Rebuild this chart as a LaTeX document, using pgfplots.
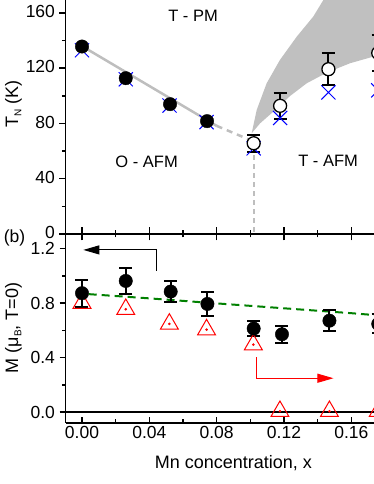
\documentclass[border=0pt]{standalone}
\usepackage{fontspec}
\setmainfont{Liberation Sans}
\usepackage{pgfplots}
\pgfplotsset{compat=1.18}
\usetikzlibrary{arrows.meta}
\definecolor{fillgray}{RGB}{192,192,192}
\definecolor{linegray}{RGB}{190,190,190}
\definecolor{dgreen}{RGB}{0,128,0}
\begin{document}
\begin{tikzpicture}[x=1pt,y=1pt]
\useasboundingbox (0,0) rectangle (374,484);
\pgfplotsset{
  common/.style={
    scale only axis, width=336.3pt, anchor=south west,
    xmin=-0.0098, xmax=0.19,
    axis x line=bottom, axis y line=left,
    axis line style={-, line width=1.8pt},
    x axis line style={-}, y axis line style={-},
    xtick={0,0.04,0.08,0.12,0.16}, minor xtick={0.02,0.06,0.10,0.14,0.18},
    every tick/.style={black, line width=1.5pt},
    every minor tick/.style={black, line width=1.5pt},
    tick label style={font=\fontsize{17.5}{20}\selectfont},
    /pgf/number format/assume math mode=true,
    ytick align=outside, major tick length=6pt, minor tick length=3.5pt,
    xtick pos=bottom, ytick pos=left,
    yticklabel style={xshift=-1pt},
  }
}
% ---------- top panel ----------
\begin{axis}[common,
  at={(65.5pt,250pt)}, height=234pt,
  ymin=0, ymax=169.4,
  ytick={0,40,80,120,160}, minor ytick={20,60,100,140},
  yticklabel style={yshift=1.5pt},
  xtick=\empty, minor xtick={},
]
\addplot[draw=none, fill=fillgray] coordinates {
 (0.1008,72.9) (0.1038,89.8) (0.1097,109.1) (0.1176,126) (0.1276,142.9)
 (0.1374,157.4) (0.1434,169.4) (0.1500,180) (0.1900,180) (0.1900,132)
 (0.1731,128.4) (0.1592,123.6) (0.1454,116.8) (0.1335,109.1) (0.1236,99.9)
 (0.1137,88.6) (0.1058,80.1) (0.1008,72.9)} -- cycle;
\addplot[linegray, line width=2.5pt] coordinates {(0,136) (0.080,78.3)};
\addplot[linegray, line width=2.5pt, dash pattern=on 6pt off 5pt] coordinates {(0.080,78.3) (0.099,68.5)};
\addplot[linegray, line width=2pt, dash pattern=on 5pt off 4pt] coordinates {(0.102,57) (0.102,0)};
\addplot[only marks, mark=x, mark size=10pt, blue, mark options={line width=1pt}] coordinates {
 (0,133) (0.026,112) (0.052,93) (0.074,81) (0.102,62) (0.1177,84) (0.1464,102.5) (0.176,104)};
\addplot[only marks, mark=*, mark size=6.7pt, black] coordinates {
 (0,135.7) (0.026,112.8) (0.0523,94) (0.0743,81.7)};
\addplot[only marks, mark=*, mark size=6.5pt, mark options={fill=white, draw=black, line width=1.3pt},
  error bars/.cd, y dir=both, y explicit,
  error bar style={line width=2pt, black},
  error mark options={rotate=90, mark size=6.5pt, line width=2pt, black}]
 coordinates {
 (0.102,65.7) +- (0,6.3)
 (0.1177,92.8) +- (0,9.2)
 (0.1464,119.3) +- (0,11.8)
 (0.176,131) +- (0,13)};
\node[font=\fontsize{16.5}{19}\selectfont] at (axis cs:0.066,158) {T - PM};
\node[font=\fontsize{16.5}{19}\selectfont] at (axis cs:0.0384,52.4) {O - AFM};
\node[font=\fontsize{16.5}{19}\selectfont] at (axis cs:0.1462,52.9) {T - AFM};
\end{axis}
% ---------- shared line with centred ticks ----------
\begin{axis}[
  scale only axis, width=336.3pt, anchor=south west,
  at={(65.5pt,250pt)}, height=234pt,
  xmin=-0.0098, xmax=0.19, ymin=0, ymax=169.4,
  axis x line=bottom, axis y line=none,
  axis line style={-, line width=1.8pt}, x axis line style={-},
  xtick={0,0.04,0.08,0.12,0.16}, minor xtick={0.02,0.06,0.10,0.14,0.18},
  xticklabels={,,,,}, xtick align=center, xtick pos=bottom,
  major tick length=13pt, minor tick length=7pt,
  every tick/.style={black, line width=1.5pt},
  every minor tick/.style={black, line width=1.5pt},
]
\end{axis}
% ---------- bottom panel ----------
\begin{axis}[common,
  at={(65.5pt,61pt)}, height=189pt,
  ymin=-0.081, ymax=1.308,
  ytick={0,0.4,0.8,1.2}, minor ytick={0.2,0.6,1.0},
  xtick align=inside,
  xticklabel style={/pgf/number format/.cd, fixed, fixed zerofill, precision=2},
  yticklabel style={/pgf/number format/.cd, fixed, fixed zerofill, precision=1},
]
\addplot[black, line width=1.8pt] coordinates {(-0.02,0) (0.2,0)};
\addplot[dgreen, line width=2pt, dash pattern=on 8pt off 5pt] coordinates {
 (0.004,0.866) (0.04,0.835) (0.08,0.798) (0.12,0.762) (0.16,0.726) (0.176,0.71) (0.19,0.695)};
\addplot[only marks, mark=triangle, mark size=10.3pt, red, mark options={line width=1pt, fill=white}] coordinates {
 (0,0.80) (0.026,0.755) (0.0519,0.647) (0.074,0.605) (0.1018,0.495) (0.1176,0.005) (0.147,0.005) (0.176,0.005)};
\addplot[only marks, mark=*, mark size=1.1pt, red] coordinates {
 (0.026,0.755) (0.0519,0.647) (0.074,0.605) (0.1018,0.495) (0.1176,0.005) (0.147,0.005) (0.176,0.005)};
\addplot[only marks, mark=*, mark size=6.7pt, black,
  error bars/.cd, y dir=both, y explicit,
  error bar style={line width=2pt, black},
  error mark options={rotate=90, mark size=6.5pt, line width=2pt, black}]
 coordinates {
 (0,0.873) +- (0,0.10)
 (0.026,0.963) +- (0,0.098)
 (0.0527,0.885) +- (0,0.08)
 (0.0745,0.794) +- (0,0.085)
 (0.102,0.613) +- (0,0.058)
 (0.1188,0.571) +- (0,0.061)
 (0.147,0.671) +- (0,0.078)
 (0.176,0.647) +- (0,0.07)};
\draw[line width=1pt, -{Triangle[length=16pt, width=9pt]}] (axis cs:0.0444,1.039) -- (axis cs:0.0444,1.191) -- (axis cs:0.0008,1.191);
\draw[red, line width=1pt, -{Triangle[length=16pt, width=9pt]}] (axis cs:0.1038,0.402) -- (axis cs:0.1038,0.248) -- (axis cs:0.1494,0.248);
\end{axis}
\node[rotate=90, font=\fontsize{18}{20}\selectfont] at (13.5,380) {T\raisebox{-0.35ex}{\fontsize{10}{10}\selectfont N} (K)};
\node[rotate=90, font=\fontsize{18}{20}\selectfont] at (13.5,156) {M (μ\raisebox{-0.35ex}{\fontsize{10}{10}\selectfont B}, T=0)};
\node[font=\fontsize{17.5}{20}\selectfont] at (14.5,246) {(b)};
\node[font=\fontsize{18}{20}\selectfont, anchor=base] at (233.3,15.7) {Mn concentration, x};
\end{tikzpicture}
\end{document}
